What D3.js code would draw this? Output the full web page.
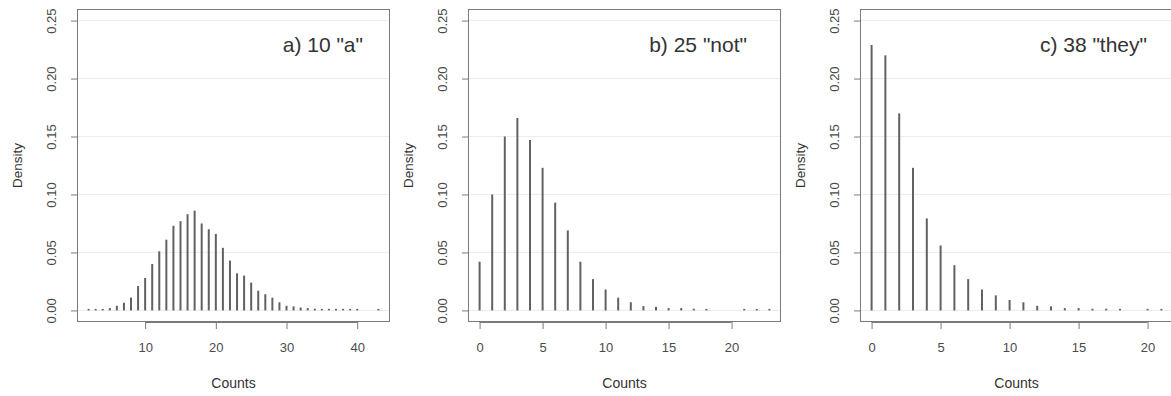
<!DOCTYPE html>
<html>
<head>
<meta charset="utf-8">
<script src="https://cdn.jsdelivr.net/npm/d3@7"></script>
<style>
  html, body { margin: 0; padding: 0; background: #fff; }
  svg { display: block; }
  text { font-family: "Liberation Sans", Arial, sans-serif; }
</style>
</head>
<body>
<svg id="chart" width="1171" height="396"></svg>
<script>
// ---- Data ----
const titles = ['a) 10 "a"', 'b) 25 "not"', 'c) 38 "they"'];

const countsA = [2,3,4,5,6,7,8,9,10,11,12,13,14,15,16,17,18,19,20,21,22,23,24,25,26,27,28,29,30,31,32,33,34,35,36,37,38,39,40,43];
const densityA = [0.0005,0.001,0.001,0.002,0.004,0.0066,0.011,0.021,0.028,0.040,0.051,0.061,0.073,0.077,0.083,0.086,0.075,0.070,0.066,0.054,0.043,0.032,0.030,0.024,0.017,0.014,0.011,0.007,0.004,0.0035,0.0025,0.002,0.0015,0.001,0.001,0.0008,0.0005,0.0005,0.0005,0.0003];

const countsB = [0,1,2,3,4,5,6,7,8,9,10,11,12,13,14,15,16,17,18,21,22,23];
const densityB = [0.042,0.100,0.150,0.166,0.147,0.123,0.093,0.069,0.042,0.027,0.018,0.011,0.007,0.0037,0.003,0.002,0.002,0.0015,0.001,0.0005,0.0005,0.0005];

const countsC = [0,1,2,3,4,5,6,7,8,9,10,11,12,13,14,15,16,17,18,20,21];
const densityC = [0.229,0.220,0.170,0.123,0.0794,0.056,0.039,0.027,0.018,0.013,0.009,0.007,0.004,0.0035,0.002,0.002,0.0015,0.0015,0.001,0.0005,0.0005];

const yTicks = [0, 0.05, 0.10, 0.15, 0.20, 0.25];
const xTicksA = [10, 20, 30, 40];
const xTicksB = [0, 5, 10, 15, 20];
const xTicksC = [0, 5, 10, 15, 20];

const xLabel = "Counts";
const yLabel = "Density";

// ---- Layout ----
const panels = [
  {counts: countsA, density: densityA, ticks: xTicksA, title: titles[0], left: 77,  titleRight: 363 - 77},
  {counts: countsB, density: densityB, ticks: xTicksB, title: titles[1], left: 468, titleRight: 747 - 468},
  {counts: countsC, density: densityC, ticks: xTicksC, title: titles[2], left: 860, titleRight: 1147 - 860}
];
const plotW = 313, plotTop = 9, plotBottom = 322;
const FONT = '"Liberation Sans", Arial, sans-serif';

const svg = d3.select("#chart");

function rExpand(ext) {
  const pad = (ext[1] - ext[0]) * 0.04;
  return [ext[0] - pad, ext[1] + pad];
}

const y = d3.scaleLinear().domain([-0.01, 0.26]).range([plotBottom, plotTop]);

panels.forEach(p => {
  const g = svg.append("g");
  const x = d3.scaleLinear().domain(rExpand(d3.extent(p.counts))).range([p.left, p.left + plotW]);

  // gridlines
  g.selectAll("line.grid").data(yTicks).join("line")
    .attr("class", "grid")
    .attr("x1", p.left).attr("x2", p.left + plotW)
    .attr("y1", d => y(d)).attr("y2", d => y(d))
    .attr("stroke", "#ececec").attr("stroke-width", 1);

  // bars (type = "h")
  const data = p.counts.map((c, i) => ({c, d: p.density[i]}));
  g.selectAll("line.bar").data(data).join("line")
    .attr("class", "bar")
    .attr("x1", d => x(d.c)).attr("x2", d => x(d.c))
    .attr("y1", y(0)).attr("y2", d => Math.min(y(d.d), y(0) - 1.5))
    .attr("stroke", "#616161").attr("stroke-width", 2);

  // box
  g.append("rect")
    .attr("x", p.left + 0.5).attr("y", plotTop + 0.5)
    .attr("width", plotW - 1).attr("height", plotBottom - plotTop - 1)
    .attr("fill", "none").attr("stroke", "#7a7a7a").attr("stroke-width", 1);

  // x axis
  const xAxis = d3.axisBottom(x).tickValues(p.ticks).tickSize(7).tickPadding(14).tickFormat(d3.format("d"));
  const gx = g.append("g").attr("transform", `translate(0,${plotBottom})`).call(xAxis);
  gx.select(".domain").attr("stroke", "#7a7a7a").attr("d", `M${x(p.ticks[0])},0.5H${x(p.ticks[p.ticks.length-1])}`);
  gx.selectAll(".tick line").attr("stroke", "#7a7a7a");
  gx.selectAll(".tick text").attr("fill", "#4a4a4a").style("font-size", "13px").style("font-family", FONT);

  // y axis
  const yAxis = d3.axisLeft(y).tickValues(yTicks).tickSize(6).tickFormat(d3.format(".2f"));
  const gy = g.append("g").attr("transform", `translate(${p.left},0)`).call(yAxis);
  gy.select(".domain").attr("stroke", "#7a7a7a").attr("d", `M0.5,${y(0)}V${y(0.25)}`);
  gy.selectAll(".tick line").attr("stroke", "#7a7a7a");
  gy.selectAll(".tick text")
    .attr("fill", "#4a4a4a").style("font-size", "13px").style("font-family", FONT)
    .attr("x", null).attr("dy", null)
    .attr("text-anchor", "middle")
    .attr("transform", "translate(-21,0) rotate(-90)");

  // axis labels
  g.append("text")
    .attr("x", p.left + plotW / 2).attr("y", 388)
    .attr("text-anchor", "middle").attr("fill", "#333").style("font-size", "14px")
    .text(xLabel);
  g.append("text")
    .attr("transform", `translate(${p.left - 55},${(plotTop + plotBottom) / 2}) rotate(-90)`)
    .attr("text-anchor", "middle").attr("fill", "#333").style("font-size", "13.5px")
    .text(yLabel);

  // title
  g.append("text")
    .attr("x", p.left + p.titleRight).attr("y", 52)
    .attr("text-anchor", "end").attr("fill", "#333").style("font-size", "21px")
    .text(p.title);
});
</script>
</body>
</html>
